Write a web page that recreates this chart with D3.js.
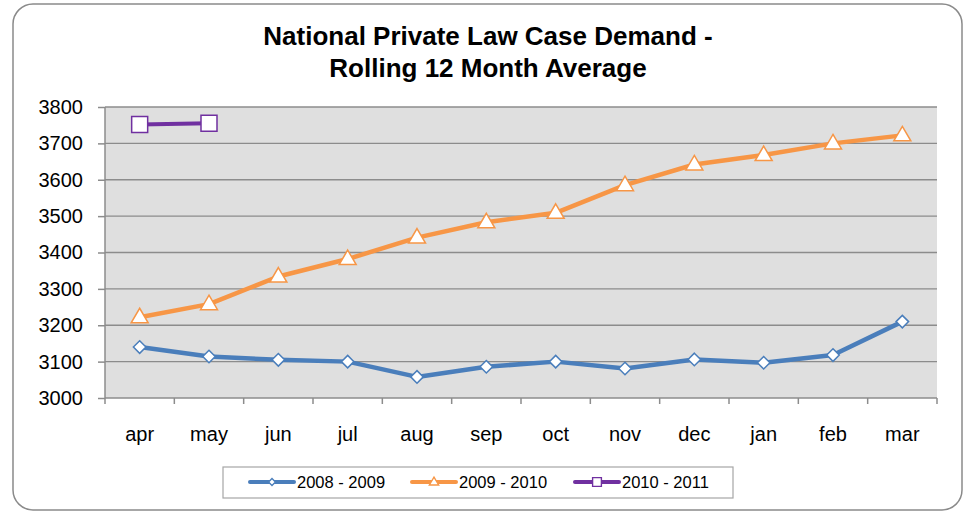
<!DOCTYPE html>
<html>
<head>
<meta charset="utf-8">
<script src="https://cdn.jsdelivr.net/npm/d3@7"></script>
<style>
  body { margin: 0; background: #fff; }
  text { font-family: "Liberation Sans", Arial, sans-serif; fill: #000; }
</style>
</head>
<body>
<svg id="chart"></svg>
<script>
// chart data
var months = ['apr', 'may', 'jun', 'jul', 'aug', 'sep', 'oct', 'nov', 'dec', 'jan', 'feb', 'mar'];
var yTicks = [3000, 3100, 3200, 3300, 3400, 3500, 3600, 3700, 3800];
var values0809 = [3140, 3114, 3105, 3100, 3058, 3086, 3100, 3081, 3106, 3097, 3118, 3210];
var values0910 = [3222, 3258, 3334, 3382, 3441, 3483, 3509, 3585, 3642, 3668, 3700, 3722];
var values1011 = [3752, 3755];
var seriesNames = ['2008 - 2009', '2009 - 2010', '2010 - 2011'];
var seriesColors = ['#4a7ebb', '#f79646', '#7030a0'];
var seriesMarkers = ['diamond', 'triangle', 'square'];

var width = 964, height = 512;
var plot = {left: 105, right: 937, top: 107, bottom: 398};

var svg = d3.select('#chart')
    .attr('width', width)
    .attr('height', height);

// outer chart border
svg.append('rect')
    .attr('x', 13)
    .attr('y', 4)
    .attr('width', 949)
    .attr('height', 506)
    .attr('rx', 20)
    .attr('ry', 20)
    .attr('fill', '#fff')
    .attr('stroke', '#8a8a8a')
    .attr('stroke-width', 1.5);

var x = d3.scaleBand()
    .domain(months)
    .range([plot.left, plot.right])
    .padding(0);

var y = d3.scaleLinear()
    .domain([3000, 3800])
    .range([plot.bottom, plot.top]);

// plot background
svg.append('rect')
    .attr('x', plot.left)
    .attr('y', plot.top)
    .attr('width', plot.right - plot.left)
    .attr('height', plot.bottom - plot.top)
    .attr('fill', '#dfdfdf');

// gridlines
svg.append('g')
    .attr('class', 'grid')
    .selectAll('line')
    .data(yTicks.filter(function(d) {return d > 3000;}))
    .enter()
    .append('line')
    .attr('x1', plot.left)
    .attr('x2', plot.right)
    .attr('y1', function(d) {return y(d);})
    .attr('y2', function(d) {return y(d);})
    .attr('stroke', '#8c8c8c')
    .attr('stroke-width', 1.3);

// y axis
var yAxis = svg.append('g')
    .attr('transform', 'translate(' + plot.left + ',0)')
    .call(d3.axisLeft(y).tickValues(yTicks).tickFormat(d3.format('d')).tickSize(7).tickPadding(15));

// x axis, ticks at band edges
var xAxis = svg.append('g')
    .attr('transform', 'translate(0,' + plot.bottom + ')')
    .call(d3.axisBottom(x).tickSize(0).tickPadding(29));

xAxis.selectAll('.edge')
    .data(d3.range(months.length + 1))
    .enter()
    .append('line')
    .attr('class', 'edge')
    .attr('x1', function(i) {return plot.left + i * x.bandwidth();})
    .attr('x2', function(i) {return plot.left + i * x.bandwidth();})
    .attr('y1', 0)
    .attr('y2', 6);

[yAxis, xAxis].forEach(function(ax) {
    ax.select('.domain').attr('stroke', '#8c8c8c').attr('stroke-width', 1.5);
    ax.selectAll('line').attr('stroke', '#8c8c8c').attr('stroke-width', 1.5);
    ax.selectAll('text')
        .attr('font-size', '20px')
        .attr('font-family', '"Liberation Sans", Arial, sans-serif')
        .attr('fill', '#000');
});
yAxis.select('.domain').attr('d', 'M0,' + plot.top + 'V' + plot.bottom);
xAxis.select('.domain').attr('d', 'M' + plot.left + ',0H' + plot.right);

// title
var title = svg.append('text')
    .attr('text-anchor', 'middle')
    .attr('font-weight', 'bold')
    .attr('font-size', '26px');
title.append('tspan').attr('x', 488).attr('y', 45).text('National Private Law Case Demand -');
title.append('tspan').attr('x', 488).attr('y', 77).text('Rolling 12 Month Average');

// markers
function markerPath(kind) {
    if (kind === 'diamond') return d3.symbol().type(d3.symbolDiamond2).size(100)();
    if (kind === 'triangle') return 'M0,-9L8.5,5.5L-8.5,5.5Z';
    return 'M-8,-8H8V8H-8Z';
}

var allSeries = [values0809, values0910, values1011];

var line = d3.line()
    .x(function(d, i) {return x(months[i]) + x.bandwidth() / 2;})
    .y(function(d) {return y(d);});

allSeries.forEach(function(vals, s) {
    var g = svg.append('g').attr('class', 'series');
    g.append('path')
        .datum(vals)
        .attr('d', line)
        .attr('fill', 'none')
        .attr('stroke', seriesColors[s])
        .attr('stroke-width', s === 2 ? 4 : 4.5)
        .attr('stroke-linejoin', 'round');
    g.selectAll('.mark')
        .data(vals)
        .enter()
        .append('path')
        .attr('class', 'mark')
        .attr('transform', function(d, i) {
            return 'translate(' + (x(months[i]) + x.bandwidth() / 2) + ',' + y(d) + ')';
        })
        .attr('d', markerPath(seriesMarkers[s]))
        .attr('fill', '#fff')
        .attr('stroke', seriesColors[s])
        .attr('stroke-width', 1.5);
});

// legend
var legend = svg.append('g').attr('class', 'legend');
legend.append('rect')
    .attr('x', 223)
    .attr('y', 467)
    .attr('width', 510)
    .attr('height', 31)
    .attr('fill', '#fff')
    .attr('stroke', '#a6a6a6')
    .attr('stroke-width', 1.2);

var legendX = [250, 412, 575];
seriesNames.forEach(function(name, s) {
    var lx = legendX[s], ly = 482;
    legend.append('line')
        .attr('x1', lx)
        .attr('x2', lx + 44)
        .attr('y1', ly)
        .attr('y2', ly)
        .attr('stroke', seriesColors[s])
        .attr('stroke-width', 4)
        .attr('stroke-linecap', 'round');
    legend.append('path')
        .attr('transform', 'translate(' + (lx + 22) + ',' + ly + ') scale(0.55)')
        .attr('d', markerPath(seriesMarkers[s]))
        .attr('fill', '#fff')
        .attr('stroke', seriesColors[s])
        .attr('stroke-width', 2.5);
    legend.append('text')
        .attr('x', lx + 47)
        .attr('y', ly + 6)
        .attr('font-size', '16.5px')
        .text(name);
});
</script>
</body>
</html>
